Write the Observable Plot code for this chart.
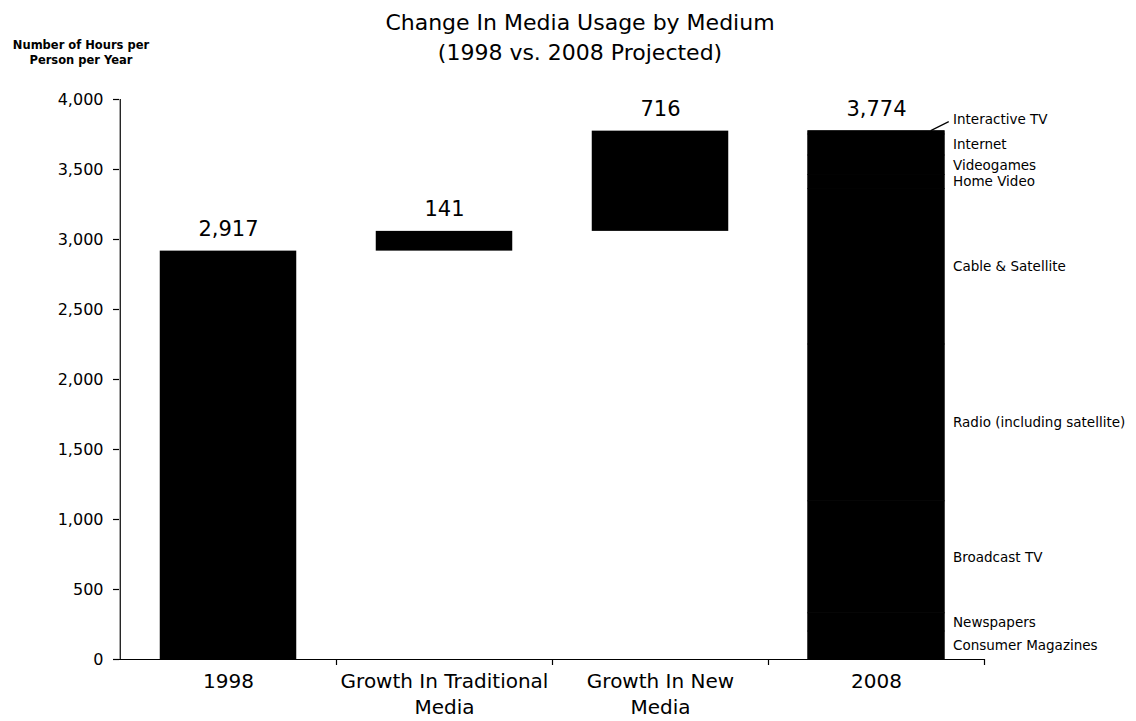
<!DOCTYPE html>
<html>
<head>
<meta charset="utf-8">
<script src="https://cdn.jsdelivr.net/npm/d3@7"></script>
<script src="https://cdn.jsdelivr.net/npm/@observablehq/plot@0.6"></script>
<style>
  body { margin: 0; background: #fff; font-family: "DejaVu Sans", sans-serif; color: #000; }
  #wrap { position: relative; width: 1136px; height: 721px; overflow: hidden; }
  #chart { position: absolute; left: 0; top: 0; }
  .title { position: absolute; left: 330px; width: 500px; top: 8px; text-align: center;
           font-size: 22px; line-height: 30px; }
  .ylabel { position: absolute; left: 0; width: 162px; top: 38px; text-align: center;
            font-size: 11.5px; font-weight: bold; line-height: 15px; }
</style>
</head>
<body>
<div id="wrap">
  <div id="chart"></div>
  <div class="title">Change In Media Usage by Medium<br>(1998 vs. 2008 Projected)</div>
  <div class="ylabel">Number of Hours per<br>Person per Year</div>
</div>
<script>
// Categories along the x axis (line breaks wrap the long labels)
const categories = ["1998", "Growth In Traditional\nMedia", "Growth In New\nMedia", "2008"];

// Hours per person per year
const hours1998 = 2917;
const growthTraditional = 141;
const growthNew = 716;
const hours2008 = 3774;

// 2008 breakdown by medium, bottom to top of the bar
const media2008 = ["Consumer Magazines", "Newspapers", "Broadcast TV", "Radio (including satellite)",
                   "Cable & Satellite", "Home Video", "Videogames", "Internet", "Interactive TV"];
const mediaHours2008 = [200, 130, 800, 1120, 1110, 100, 140, 150, 24];

const yTicks = [0, 500, 1000, 1500, 2000, 2500, 3000, 3500, 4000];

// Waterfall steps: each bar floats from the running total
const steps = [
  {cat: categories[0], y1: 0, y2: hours1998, value: hours1998},
  {cat: categories[1], y1: hours1998, y2: hours1998 + growthTraditional, value: growthTraditional},
  {cat: categories[2], y1: hours1998 + growthTraditional, y2: hours1998 + growthTraditional + growthNew, value: growthNew},
  {cat: categories[3], y1: 0, y2: hours2008, value: hours2008}
];

// Stack the 2008 media on top of each other
let acc = 0;
const stack2008 = media2008.map((name, i) => {
  const y1 = acc; acc += mediaHours2008[i];
  return {name, y1, y2: acc, mid: (y1 + acc) / 2};
});

const W = 1136, H = 721, ML = 119, MR = 151, MT = 99, MB = 62;
const step = (W - ML - MR) / categories.length;
const barWidth = 137;
const inset = (step - barWidth) / 2;
const fmt = d3.format(",");

// Boundary ticks under the x axis and the leader line to the top label
function extras(index, scales) {
  const g = d3.create("svg:g").attr("stroke", "black").attr("stroke-width", 1.2);
  const y0 = scales.y(0);
  for (const c of categories) {
    const xr = scales.x(c) + step;
    g.append("line").attr("x1", xr).attr("x2", xr).attr("y1", y0).attr("y2", y0 + 6);
  }
  const right = scales.x(categories[3]) + step - inset;
  const top = scales.y(hours2008);
  g.append("line").attr("x1", right - 14).attr("y1", top).attr("x2", right + 4).attr("y2", top - 9);
  return g.node();
}

const chart = Plot.plot({
  width: W, height: H,
  marginLeft: ML, marginRight: MR, marginTop: MT, marginBottom: MB,
  style: {fontFamily: "DejaVu Sans, sans-serif", background: "white", color: "black"},
  x: {domain: categories, padding: 0, label: null},
  y: {domain: [0, 4000], label: null},
  marks: [
    Plot.barY(steps.slice(0, 3), {x: "cat", y1: "y1", y2: "y2", fill: "black", insetLeft: inset, insetRight: inset}),
    Plot.barY(stack2008, {x: () => categories[3], y1: "y1", y2: "y2", fill: "black", stroke: "black",
      strokeWidth: 0.8, insetLeft: inset, insetRight: inset}),
    Plot.text(steps, {x: "cat", y: "y2", text: d => fmt(d.value), lineAnchor: "bottom", dy: -15, fontSize: 21}),
    Plot.text(stack2008.slice(0, -1), {x: () => categories[3], y: "mid", text: "name", textAnchor: "start",
      dx: barWidth / 2 + 8, fontSize: 13.5}),
    Plot.text(stack2008.slice(-1), {x: () => categories[3], y: () => hours2008, text: "name", textAnchor: "start",
      dx: barWidth / 2 + 8, dy: -11, fontSize: 13.5}),
    Plot.ruleY([0], {stroke: "black", strokeWidth: 1.2}),
    Plot.ruleX([categories[0]], {y1: 0, y2: 4000, dx: -step / 2, stroke: "black", strokeWidth: 1.2}),
    Plot.axisY({ticks: yTicks, tickFormat: fmt, tickSize: 6, tickPadding: 10, fontSize: 16, strokeWidth: 1.2}),
    Plot.axisX({tickSize: 0, tickPadding: 10, fontSize: 20, lineHeight: 1.3}),
    extras
  ]
});

document.getElementById("chart").append(chart);
</script>
</body>
</html>
